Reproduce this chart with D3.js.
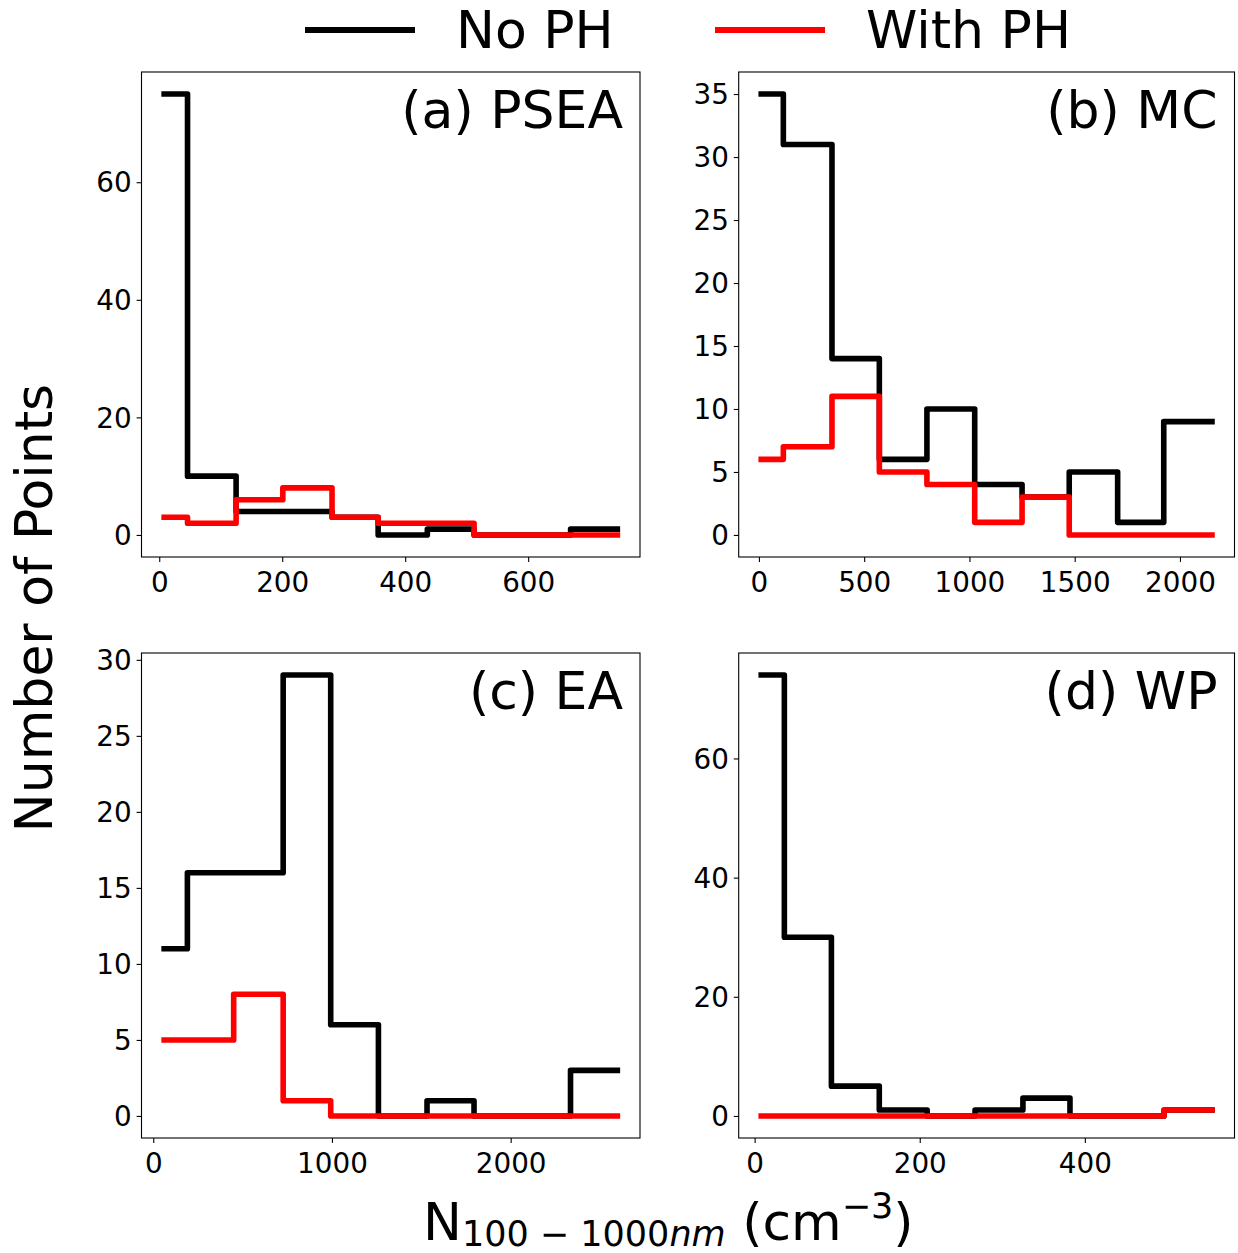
<!DOCTYPE html>
<html>
<head>
<meta charset="utf-8">
<script src="https://cdn.jsdelivr.net/npm/d3@7"></script>
<style>
  body { margin: 0; background: #fff; }
  text { font-family: "DejaVu Sans", sans-serif; fill: #000; }
</style>
</head>
<body>
<svg id="fig" width="1238" height="1253"></svg>
<script>
// region names and series
const panelNames = ['(a) PSEA', '(b) MC', '(c) EA', '(d) WP'];
const seriesNames = ['No PH', 'With PH'];
const seriesColors = ['#000000', '#ff0000'];

// bin edges along N_100-1000nm (cm^-3) and counts per bin, one set per region
const edgesPSEA = [8, 46, 125, 201, 281, 356, 436, 512, 590, 669, 745];
const noPhPSEA = [75, 10, 4, 4, 3, 0, 1, 0, 0, 1];
const withPhPSEA = [3, 2, 6, 8, 3, 2, 2, 0, 0, 0];

const edgesMC = [11, 116, 347, 572, 798, 1025, 1250, 1474, 1704, 1923, 2152];
const noPhMC = [35, 31, 14, 6, 10, 4, 3, 5, 1, 9];
const withPhMC = [6, 7, 11, 5, 4, 1, 3, 0, 0, 0];

const edgesEA = [61, 191, 450, 727, 993, 1260, 1532, 1795, 2067, 2335, 2597];
const noPhEA = [11, 16, 16, 29, 6, 0, 1, 0, 0, 3];
const withPhEA = [5, 5, 8, 1, 0, 0, 0, 0, 0, 0];

const edgesWP = [8, 36, 93, 151, 209, 267, 325, 382, 439, 496, 554];
const noPhWP = [74, 30, 5, 1, 0, 1, 3, 0, 0, 1];
const withPhWP = [0, 0, 0, 0, 0, 0, 0, 0, 0, 1];

// tick labels
const xTicksPSEA = [0, 200, 400, 600];
const yTicksPSEA = [0, 20, 40, 60];
const xTicksMC = [0, 500, 1000, 1500, 2000];
const yTicksMC = [0, 5, 10, 15, 20, 25, 30, 35];
const xTicksEA = [0, 1000, 2000];
const yTicksEA = [0, 5, 10, 15, 20, 25, 30];
const xTicksWP = [0, 200, 400];
const yTicksWP = [0, 20, 40, 60];

const svg = d3.select('#fig');
const lw = 5.6;
const fmt = d3.format('d');

const panels = [
  { name: panelNames[0], edges: edgesPSEA, series: [noPhPSEA, withPhPSEA], xt: xTicksPSEA, yt: yTicksPSEA, left: 141.5, top: 72, w: 498.5, h: 485 },
  { name: panelNames[1], edges: edgesMC, series: [noPhMC, withPhMC], xt: xTicksMC, yt: yTicksMC, left: 738.7, top: 72, w: 495.8, h: 485 },
  { name: panelNames[2], edges: edgesEA, series: [noPhEA, withPhEA], xt: xTicksEA, yt: yTicksEA, left: 141.5, top: 653, w: 498.5, h: 485 },
  { name: panelNames[3], edges: edgesWP, series: [noPhWP, withPhWP], xt: xTicksWP, yt: yTicksWP, left: 738.7, top: 653, w: 495.8, h: 485 }
];

panels.forEach(function (p) {
  const e0 = p.edges[0], e1 = p.edges[p.edges.length - 1];
  const xr = e1 - e0;
  const x = d3.scaleLinear()
    .domain([e0 - 0.05 * xr, e1 + 0.05 * xr])
    .range([p.left, p.left + p.w]);
  const ymax = d3.max(p.series, s => d3.max(s));
  const y = d3.scaleLinear()
    .domain([-0.05 * ymax, 1.05 * ymax])
    .range([p.top + p.h, p.top]);

  const line = d3.line()
    .x(d => x(d[0]))
    .y(d => y(d[1]))
    .curve(d3.curveStepAfter);

  p.series.forEach(function (counts, k) {
    const pts = p.edges.map((e, i) => [e, counts[Math.min(i, counts.length - 1)]]);
    svg.append('path')
      .attr('d', line(pts))
      .attr('fill', 'none')
      .attr('stroke', seriesColors[k])
      .attr('stroke-width', lw)
      .attr('stroke-linecap', 'square')
      .attr('stroke-linejoin', 'round');
  });

  // axes
  const gx = svg.append('g')
    .attr('transform', `translate(0, ${p.top + p.h})`)
    .call(d3.axisBottom(x).tickValues(p.xt).tickFormat(fmt).tickSize(4.9).tickPadding(4.9));
  const gy = svg.append('g')
    .attr('transform', `translate(${p.left}, 0)`)
    .call(d3.axisLeft(y).tickValues(p.yt).tickFormat(fmt).tickSize(4.9).tickPadding(4.9));
  [gx, gy].forEach(function (g) {
    g.select('.domain').remove();
    g.selectAll('line').attr('stroke', '#000').attr('stroke-width', 1.1);
    g.selectAll('text')
      .attr('font-size', 27.8)
      .attr('font-family', '"DejaVu Sans", sans-serif')
      .attr('fill', '#000');
  });
  gx.selectAll('text').attr('dy', '0.9em');
  gy.selectAll('text').attr('dy', '0.35em');

  svg.append('rect')
    .attr('x', p.left).attr('y', p.top)
    .attr('width', p.w).attr('height', p.h)
    .attr('fill', 'none')
    .attr('stroke', '#000')
    .attr('stroke-width', 1.1);

  svg.append('text')
    .attr('x', p.left + p.w - 17)
    .attr('y', p.top + 56)
    .attr('text-anchor', 'end')
    .attr('font-size', 52)
    .text(p.name);
});

// legend across the top
const legendX = [305, 715];
seriesNames.forEach(function (name, k) {
  svg.append('line')
    .attr('x1', legendX[k]).attr('x2', legendX[k] + 110)
    .attr('y1', 30).attr('y2', 30)
    .attr('stroke', seriesColors[k])
    .attr('stroke-width', 6);
  svg.append('text')
    .attr('x', legendX[k] + 151)
    .attr('y', 48)
    .attr('font-size', 52)
    .text(name);
});

// y label
svg.append('text')
  .attr('transform', 'translate(52, 608) rotate(-90)')
  .attr('text-anchor', 'middle')
  .attr('font-size', 52)
  .text('Number of Points');

// x label with sub/superscript
const xl = svg.append('text')
  .attr('x', 423)
  .attr('y', 1240)
  .attr('font-size', 52);
xl.append('tspan').text('N');
xl.append('tspan').attr('font-size', 35).attr('dy', 6).text('100 \u2212 1000');
xl.append('tspan').attr('font-size', 35).attr('font-style', 'italic').text('nm');
xl.append('tspan').attr('dy', -6).text(' (cm');
xl.append('tspan').attr('font-size', 35).attr('dy', -22).text('\u22123');
xl.append('tspan').attr('dy', 22).text(')');
</script>
</body>
</html>
